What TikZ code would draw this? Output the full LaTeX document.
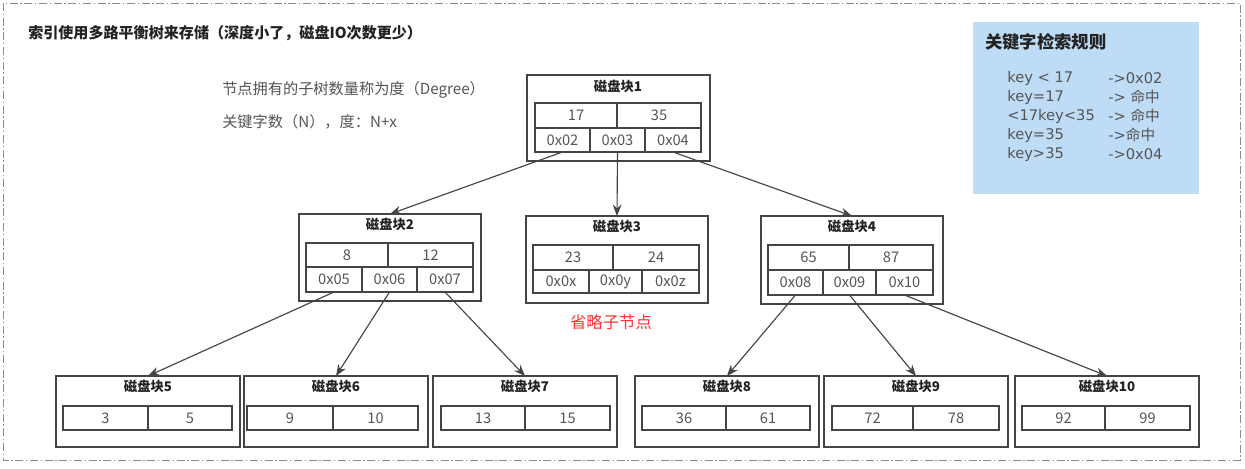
\documentclass[tikz,border=0pt]{standalone}
\usepackage{fontspec}
\setmainfont{Noto Sans CJK SC}
\newfontfamily\rulefont{DejaVu Sans}
\newfontfamily\cjkfont{Noto Sans CJK SC}
\usetikzlibrary{arrows.meta}
\definecolor{ln}{HTML}{444444}
\definecolor{tx}{HTML}{222222}
\definecolor{celltx}{HTML}{555555}
\definecolor{keyblue}{RGB}{191,220,246}
\definecolor{redtx}{HTML}{FF3333}
\definecolor{bordergray}{HTML}{8A8A8A}
\newcommand\fcell{\fontsize{11pt}{13pt}\selectfont}
\newcommand\fttl{\fontsize{10pt}{12pt}\selectfont\bfseries}
\newcommand\fmain{\fontsize{11.3pt}{13pt}\selectfont\bfseries}
\newcommand\fdesc{\fontsize{11.4pt}{13pt}\selectfont}
\newcommand\frule{\fontsize{11pt}{13pt}\selectfont\rulefont}
\newcommand\rbox[7]{\node[#2, minimum width={(#5-#3)*0.75pt}, minimum height={(#6-#4)*0.75pt}] (#1) at ({(#3+#5)/2},{(#4+#6)/2}) {#7};}
\begin{document}
\begin{tikzpicture}[x=0.75pt,y=-0.75pt,
  blk/.style={draw=ln, line width=0.9pt, inner sep=0pt, outer sep=0pt},
  cell/.style={draw=ln, line width=0.9pt, inner sep=0pt, outer sep=0pt, text=celltx, font=\fcell},
  ttl/.style={font=\fttl, text=tx, inner sep=0pt},
  arr/.style={draw=ln, line width=0.85pt, -{Stealth[length=8.5pt,width=6.5pt]}},
  txt/.style={inner sep=0pt, anchor=west, text=tx}]
\useasboundingbox (0,0) rectangle (1245,468);
\fill[white] (0,0) rectangle (1245,468);
% outer frame
\draw[bordergray, line width=0.75pt, dash pattern=on 6pt off 2pt on 1pt off 2pt] (3,3) rectangle (1240,460);

% headings
\node[txt, font=\fmain] (title) at (28,33) {索引使用多路平衡树来存储（深度小了，磁盘IO次数更少）};
\node[txt, font=\fdesc, text=celltx] (desc1) at (222,90) {节点拥有的子树数量称为度（Degree）};
\node[txt, font=\fdesc, text=celltx] (desc2) at (222,122) {关键字数（N），度：N+x};

% key rule box
\node[fill=keyblue, inner sep=0pt, minimum width={226*0.75pt}, minimum height={172*0.75pt}] (rules) at (1086,108) {};
\node[txt, font={\fontsize{13pt}{15pt}\selectfont\bfseries}] (rulest) at (985,42) {关键字检索规则};
\foreach \a/\b [count=\i from 0] in {key < 17/->0x02, key=17/-> {\cjkfont 命中}, <17key<35/-> {\cjkfont 命中}, key=35/->{\cjkfont 命中}, key>35/->0x04}{
  \node[txt, font=\frule, text=celltx] (ra\i) at (1007,{78+19*\i}) {\a};
  \node[txt, font=\frule, text=celltx] (rb\i) at (1108,{78+19*\i}) {\b};
}

% block 1
\rbox{b1}{blk}{527}{75}{710}{161}{}
\node[ttl] (t1) at (618,86) {磁盘块1};
\rbox{k1a}{cell}{535}{103}{617}{128}{17}
\rbox{k1b}{cell}{617}{103}{701}{128}{35}
\rbox{p1a}{cell}{535}{128}{590}{152}{0x02}
\rbox{p1b}{cell}{590}{128}{645}{152}{0x03}
\rbox{p1c}{cell}{645}{128}{701}{152}{0x04}

% block 2
\rbox{b2}{blk}{299}{214}{481}{301}{}
\node[ttl] (t2) at (390,224) {磁盘块2};
\rbox{k2a}{cell}{306}{243}{388}{267}{8}
\rbox{k2b}{cell}{388}{243}{473}{267}{12}
\rbox{p2a}{cell}{306}{267}{362}{292}{0x05}
\rbox{p2b}{cell}{362}{267}{417}{292}{0x06}
\rbox{p2c}{cell}{417}{267}{473}{292}{0x07}

% block 3
\rbox{b3}{blk}{526}{216}{708}{303}{}
\node[ttl] (t3) at (617,226) {磁盘块3};
\rbox{k3a}{cell}{533}{245}{613}{270}{23}
\rbox{k3b}{cell}{613}{245}{699}{270}{24}
\rbox{p3a}{cell}{533}{270}{589}{293}{0x0x}
\rbox{p3b}{cell}{589}{270}{642}{293}{0x0y}
\rbox{p3c}{cell}{642}{270}{699}{293}{0x0z}
\node[inner sep=0pt, text=redtx, font={\fontsize{12.3pt}{14pt}\selectfont}] (omit) at (611,322) {省略子节点};

% block 4
\rbox{b4}{blk}{761}{216}{943}{304}{}
\node[ttl] (t4) at (852,226) {磁盘块4};
\rbox{k4a}{cell}{768}{245}{849}{270}{65}
\rbox{k4b}{cell}{849}{245}{933}{270}{87}
\rbox{p4a}{cell}{768}{270}{823}{295}{0x08}
\rbox{p4b}{cell}{823}{270}{876}{295}{0x09}
\rbox{p4c}{cell}{876}{270}{933}{295}{0x10}

% leaf blocks
\foreach \n/\xa/\xb/\ta/\tb/\dv/\va/\vb in {
  5/56/240/63/232/148/3/5,
  6/244/428/247/418/333/9/10,
  7/433/617/441/610/525/13/15,
  8/635/819/642/810/726/36/61,
  9/824/1008/832/999/913/72/78,
  10/1015/1199/1022/1190/1105/92/99}{
  \rbox{b\n}{blk}{\xa}{376}{\xb}{447}{}
  \node[ttl] (t\n) at ({(\xa+\xb)/2},386) {磁盘块\n};
  \rbox{k\n a}{cell}{\ta}{406}{\dv}{430}{\va}
  \rbox{k\n b}{cell}{\dv}{406}{\tb}{430}{\vb}
}

% connectors
\draw[arr] (p1a.south) -- (b2.north);
\draw[arr] (p1b.south) -- (b3.north);
\draw[arr] (p1c.south) -- (b4.north);
\draw[arr] (p2a.south) -- (b5.north);
\draw[arr] (p2b.south) -- (b6.north);
\draw[arr] (p2c.south) -- (b7.north);
\draw[arr] (p4a.south) -- (b8.north);
\draw[arr] (p4b.south) -- (b9.north);
\draw[arr] (p4c.south) -- (b10.north);
\end{tikzpicture}
\end{document}
